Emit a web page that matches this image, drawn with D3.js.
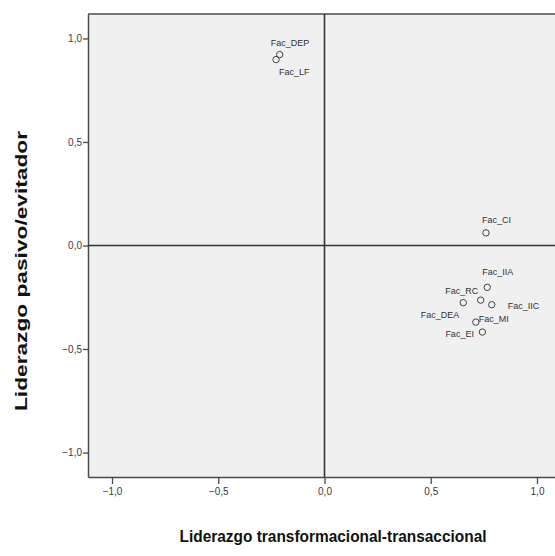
<!DOCTYPE html>
<html>
<head>
<meta charset="utf-8">
<script src="https://cdn.jsdelivr.net/npm/d3@7"></script>
<style>
  html, body { margin: 0; padding: 0; background: #ffffff; }
  svg { display: block; }
</style>
</head>
<body>
<svg id="chart" width="555" height="556"></svg>
<script>
// Factor loadings on the two leadership dimensions
const factors = ["Fac_DEP", "Fac_LF", "Fac_CI", "Fac_IIA", "Fac_RC", "Fac_DEA", "Fac_IIC", "Fac_MI", "Fac_EI"];
const transformational = [-0.211, -0.228, 0.760, 0.766, 0.653, 0.735, 0.787, 0.712, 0.743];
const passiveAvoidant = [0.922, 0.898, 0.061, -0.202, -0.276, -0.264, -0.286, -0.370, -0.418];
const xTicks = [-1.0, -0.5, 0.0, 0.5, 1.0];
const yTicks = [-1.0, -0.5, 0.0, 0.5, 1.0];
const xTitle = "Liderazgo transformacional-transaccional";
const yTitle = "Liderazgo pasivo/evitador";

// Label placement relative to each point (text start, vertical centre)
const labelOffset = {
  "Fac_DEP": [-9, -12], "Fac_LF": [3, 12], "Fac_CI": [-4, -13],
  "Fac_IIA": [-5, -15], "Fac_RC": [-18, -12], "Fac_DEA": [-60, 15],
  "Fac_IIC": [16, 1], "Fac_MI": [3, -3], "Fac_EI": [-37, 2]
};

const svg = d3.select("#chart");
const plotLeft = 88, plotTop = 14, plotBottom = 477, plotRight = 561;

const x = d3.scaleLinear().domain([-1.113, 1.113]).range([plotLeft, plotRight]);
const y = d3.scaleLinear().domain([-1.118, 1.118]).range([plotBottom, plotTop]);

const fmt = v => d3.format(".1f")(v).replace(".", ",");
const axisColor = "#4a4a4a";
const tickFont = "'Liberation Sans', Arial, sans-serif";

// Plot background
svg.append("rect")
  .attr("x", plotLeft).attr("y", plotTop)
  .attr("width", plotRight - plotLeft).attr("height", plotBottom - plotTop)
  .attr("fill", "#f0f0f0");

// Frame (top edge)
svg.append("line")
  .attr("x1", plotLeft).attr("x2", plotRight)
  .attr("y1", plotTop).attr("y2", plotTop)
  .attr("stroke", axisColor).attr("stroke-width", 1.5);

// Axes
const xAxis = svg.append("g")
  .attr("transform", `translate(0,${plotBottom})`)
  .call(d3.axisBottom(x).tickValues(xTicks).tickFormat(fmt).tickSize(7).tickSizeOuter(0));
const yAxis = svg.append("g")
  .attr("transform", `translate(${plotLeft},0)`)
  .call(d3.axisLeft(y).tickValues(yTicks).tickFormat(fmt).tickSize(5).tickSizeOuter(0));

[xAxis, yAxis].forEach(g => {
  g.select(".domain").attr("stroke", axisColor).attr("stroke-width", 1.5);
  g.selectAll(".tick line").attr("stroke", axisColor).attr("stroke-width", 1.3);
  g.selectAll(".tick text")
    .attr("fill", "#3a3a3a")
    .style("font-family", tickFont)
    .style("font-size", "10px");
});
xAxis.selectAll(".tick text").attr("dy", "0.75em").attr("y", 10);
yAxis.selectAll(".tick text").attr("x", -6);

// Reference lines through the origin
svg.append("line")
  .attr("x1", x(0)).attr("x2", x(0))
  .attr("y1", plotTop).attr("y2", plotBottom)
  .attr("stroke", "#333").attr("stroke-width", 1.6);
svg.append("line")
  .attr("x1", plotLeft).attr("x2", plotRight)
  .attr("y1", y(0)).attr("y2", y(0))
  .attr("stroke", "#333").attr("stroke-width", 1.6);

// Points and labels
const pts = factors.map((name, i) => ({ name, vx: transformational[i], vy: passiveAvoidant[i] }));

svg.append("g").selectAll("circle")
  .data(pts).join("circle")
  .attr("cx", d => x(d.vx)).attr("cy", d => y(d.vy))
  .attr("r", 3.2)
  .attr("fill", "none").attr("stroke", "#444").attr("stroke-width", 1);

svg.append("g").selectAll("text")
  .data(pts).join("text")
  .attr("x", d => x(d.vx) + labelOffset[d.name][0])
  .attr("y", d => y(d.vy) + labelOffset[d.name][1])
  .attr("dy", "0.35em")
  .attr("fill", "#333")
  .style("font-family", tickFont)
  .style("font-size", "9px")
  .text(d => d.name);

// Axis titles
const titleFont = "'Liberation Sans', Arial, sans-serif";
svg.append("text")
  .attr("x", 333).attr("y", 542)
  .attr("text-anchor", "middle")
  .attr("fill", "#111")
  .style("font-family", titleFont)
  .style("font-weight", "bold")
  .style("font-size", "17px")
  .attr("textLength", 307).attr("lengthAdjust", "spacingAndGlyphs")
  .text(xTitle);

svg.append("text")
  .attr("transform", "translate(27,271) rotate(-90)")
  .attr("text-anchor", "middle")
  .attr("fill", "#111")
  .style("font-family", titleFont)
  .style("font-weight", "bold")
  .style("font-size", "17px")
  .attr("textLength", 280).attr("lengthAdjust", "spacingAndGlyphs")
  .text(yTitle);
</script>
</body>
</html>
